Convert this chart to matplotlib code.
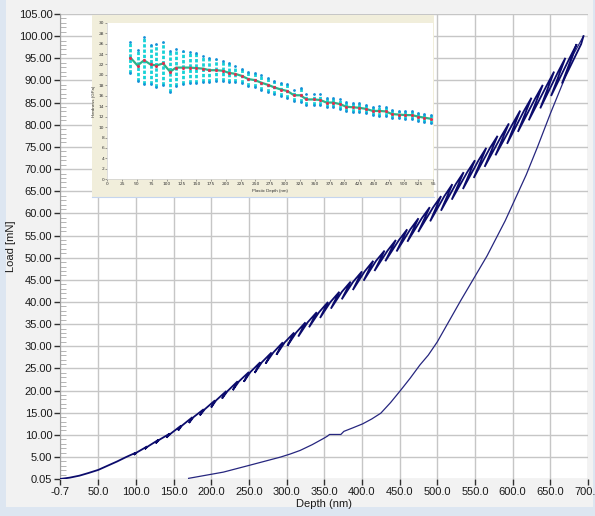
import numpy as np
import matplotlib
matplotlib.use('Agg')
import matplotlib.pyplot as plt
from matplotlib.patches import Rectangle
from matplotlib.ticker import FixedLocator, MultipleLocator, FixedFormatter

# ---------------- main chart data (Depth nm, Load mN) ----------------
start_depth = [-0.7, 12, 25, 37, 50, 62, 75, 87]
start_load = [0.05, 0.35, 0.8, 1.4, 2.1, 3.0, 4.0, 5.0]

cycle_peak_depth = [100, 115, 130, 145, 160, 175, 190, 205, 220, 235,
                    250, 265, 280, 295, 310, 325, 340, 355, 370, 385,
                    400, 415, 430, 445, 460, 475, 490, 505, 520, 535,
                    550, 565, 580, 595, 610, 625, 640, 655, 670, 685]
cycle_peak_load = [6.0, 7.4, 8.9, 10.3, 12.1, 14.0, 15.8, 17.8, 19.9, 22.1,
                   24.2, 26.4, 28.6, 30.9, 33.1, 35.4, 37.7, 40.0, 42.3, 44.6,
                   46.9, 49.3, 51.6, 54.0, 56.4, 58.9, 61.4, 63.9, 66.6, 69.3,
                   72.0, 74.8, 77.5, 80.3, 83.2, 86.1, 89.0, 92.0, 95.1, 98.2]
cycle_valley_depth = [97.4, 111.8, 126.2, 140.6, 156.1, 170.5, 184.9, 199.9, 214.3, 228.6,
                      243.3, 257.7, 272.1, 286.5, 301.1, 315.5, 329.8, 344.4, 358.8, 373.2,
                      387.9, 402.2, 416.6, 431.0, 445.9, 460.3, 474.7, 490.5, 504.9, 519.2,
                      534.0, 548.4, 562.8, 577.2, 592.6, 607.0, 621.4, 636.6, 651.0, 665.4]
cycle_valley_load = [5.5, 6.8, 8.1, 9.4, 11.0, 12.7, 14.4, 16.2, 18.2, 20.1,
                     22.0, 24.0, 26.1, 28.1, 30.1, 32.2, 34.3, 36.4, 38.5, 40.6,
                     42.7, 44.8, 47.0, 49.2, 51.4, 53.6, 55.8, 58.2, 60.6, 63.1,
                     65.5, 68.0, 70.5, 73.1, 75.7, 78.4, 81.0, 83.7, 86.5, 89.3]
cycle_reload_depth = [100.8, 116.0, 131.1, 146.3, 161.2, 176.4, 191.5, 206.5, 221.7, 236.9,
                      252.0, 267.2, 282.4, 297.6, 312.7, 327.9, 343.1, 358.2, 373.4, 388.5,
                      403.6, 418.8, 434.0, 449.2, 464.2, 479.4, 494.6, 509.4, 524.5, 539.7,
                      554.8, 570.0, 585.2, 600.3, 615.2, 630.4, 645.6, 660.5, 675.7, 690.9]
max_depth = 694
max_load = 100.0

unload_depth = [694, 681, 668, 650, 633, 618, 604, 590, 566, 548, 531, 515, 500,
                488, 477, 464, 451, 438, 425, 413, 401, 388, 376, 372, 357, 354, 349,
                334, 318, 305, 292, 272, 252, 234, 216, 193, 170]
unload_load = [100.0, 96.0, 90.0, 82.5, 75.0, 68.7, 63.5, 58.3, 50.4, 45.2, 40.3, 35.5, 31.0,
               28.0, 25.8, 22.8, 20.0, 17.3, 14.9, 13.6, 12.5, 11.6, 10.8, 10.1, 10.1, 9.7, 9.2,
               7.8, 6.5, 5.7, 5.0, 4.1, 3.2, 2.4, 1.6, 0.9, 0.2]

x_ticks = [-0.7, 50, 100, 150, 200, 250, 300, 350, 400, 450, 500, 550, 600, 650, 700]
y_ticks = [0.05, 5, 10, 15, 20, 25, 30, 35, 40, 45, 50, 55, 60, 65, 70, 75, 80, 85,
           90, 95, 100, 105]

# ---------------- inset data (Plastic depth nm, Hardness GPa) ----------------
pd_depth = [39, 51, 62, 73, 83, 94, 106, 116, 128, 139, 150, 162, 172, 183, 195, 205,
            216, 227, 238, 249, 260, 271, 282, 293, 304, 315, 326, 336, 348, 359, 370,
            381, 393, 403, 414, 425, 436, 448, 459, 470, 480, 492, 503, 514, 525, 535, 546]
hardness = [23.3, 21.8, 22.8, 22.0, 21.8, 22.2, 20.6, 21.4, 21.4, 21.4, 21.3, 21.2, 20.9,
            20.9, 20.8, 20.4, 20.2, 19.8, 19.2, 19.0, 18.5, 18.1, 17.6, 17.2, 16.9, 16.1,
            16.1, 15.3, 15.3, 15.2, 14.7, 14.7, 14.4, 13.9, 13.8, 13.7, 13.5, 13.1, 13.1,
            13.0, 12.5, 12.4, 12.3, 12.3, 12.0, 11.8, 11.6]
hardness_err = [3.0, 2.9, 4.5, 3.7, 4.1, 4.05, 3.9, 3.6, 3.2, 3.0, 2.9, 2.5, 2.3, 2.1,
                1.9, 1.85, 1.5, 1.3, 1.4, 1.3, 1.4, 1.3, 1.2, 1.2, 1.3, 1.1, 1.3, 1.0,
                1.0, 1.05, 0.9, 0.9, 0.95, 0.85, 0.85, 0.9, 0.8, 0.8, 0.9, 0.85, 0.7,
                0.75, 0.75, 0.75, 0.75, 0.75, 0.75]
inset_x_ticks = [0, 25, 50, 75, 100, 125, 150, 175, 200, 225, 250, 275, 300, 325, 350,
                 375, 400, 425, 450, 475, 500, 525, 550]
inset_x_labels = ['0', '25', '50', '75', '100', '125', '150', '175', '200', '225', '250',
                  '275', '300', '325', '350', '375', '400', '425', '450', '475', '500',
                  '525', '55']
inset_y_ticks = [0, 2, 4, 6, 8, 10, 12, 14, 16, 18, 20, 22, 24, 26, 28, 30]

FONT = 'Liberation Sans'
W, H = 595, 516

fig = plt.figure(figsize=(W / 100, H / 100), dpi=100)
fig.patch.set_facecolor('#dde6f1')
fig.patches.append(Rectangle((6 / W, 9 / H), 587 / W, 1 - 9 / H, transform=fig.transFigure,
                             facecolor='#f2f2f2', edgecolor='none', zorder=-5))

# ---------------- main axes ----------------
ax = fig.add_axes([60 / W, 37 / H, 528 / W, 465 / H])
ax.set_facecolor('white')

# assemble loading path: peak -> partial unload -> reload, for each cycle
ld, ll = list(start_depth), list(start_load)
for hp, pp, hv, pv, hr in zip(cycle_peak_depth, cycle_peak_load, cycle_valley_depth,
                              cycle_valley_load, cycle_reload_depth):
    ld += [hp, hv, hr]
    ll += [pp, pv, pp]
ld.append(max_depth)
ll.append(max_load)

ax.plot(unload_depth, unload_load, color='#26267f', lw=0.9, zorder=3)
ax.plot(ld, ll, color='#0b0b6c', lw=1.3, zorder=4, solid_joinstyle='miter')

ax.set_xlim(-0.7, 700)
ax.set_ylim(0.05, 105)
ax.xaxis.set_major_locator(FixedLocator(x_ticks))
ax.xaxis.set_major_formatter(FixedFormatter(['%.1f' % v for v in x_ticks]))
ax.yaxis.set_major_locator(FixedLocator(y_ticks))
ax.yaxis.set_major_formatter(FixedFormatter(['%.2f' % v for v in y_ticks]))
ax.yaxis.set_minor_locator(MultipleLocator(1))
ax.grid(True, which='major', color='#c6c6c6', lw=1.0, zorder=1)
ax.set_axisbelow(True)
ax.tick_params(axis='both', which='major', direction='out', length=4, width=1,
               color='#303030', labelsize=8, labelcolor='#1a1a1a', pad=1.5)
ax.tick_params(axis='y', which='minor', direction='in', length=4, width=0.6, color='#a8a8a8')
for lab in ax.get_xticklabels() + ax.get_yticklabels():
    lab.set_fontfamily(FONT)
for s in ['top', 'right', 'bottom']:
    ax.spines[s].set_visible(False)
ax.spines['left'].set_color('#a0a0a0')
ax.set_xlabel('Depth (nm)', fontsize=8, family=FONT, color='#1a1a1a', labelpad=2)
ax.set_ylabel('Load [mN]', fontsize=8, family=FONT, color='#1a1a1a', labelpad=2)

# ---------------- inset ----------------
frame = fig.add_axes([92 / W, (H - 197) / H, 342 / W, 182 / H], zorder=5)
frame.set_facecolor('#f1eedb')
frame.set_xticks([])
frame.set_yticks([])
for s in frame.spines.values():
    s.set_visible(False)
frame.spines['bottom'].set_visible(True)
frame.spines['bottom'].set_color('#c5d5ee')

ins = fig.add_axes([107.3 / W, (H - 179.3) / H, 326 / W, 156.6 / H], zorder=6)
ins.set_facecolor('white')
ins.set_xlim(0, 550)
ins.set_ylim(0, 30)
ins.vlines(pd_depth, np.subtract(hardness, hardness_err), np.add(hardness, hardness_err),
           colors='#16d2d6', lw=2.0, linestyles=(0, (1.2, 0.7)), zorder=2)
ins.scatter(pd_depth, np.subtract(hardness, hardness_err), s=4, color='#1590d8', zorder=3, lw=0)
ins.scatter(pd_depth, np.add(hardness, hardness_err), s=4, color='#1590d8', zorder=3, lw=0)
ins.plot(pd_depth, hardness, color='#2bb38a', lw=1.6, zorder=4)
ins.scatter(pd_depth, hardness, s=5, color='#e03050', zorder=5, lw=0)
ins.xaxis.set_major_locator(FixedLocator(inset_x_ticks))
ins.xaxis.set_major_formatter(FixedFormatter(inset_x_labels))
ins.yaxis.set_major_locator(FixedLocator(inset_y_ticks))
ins.tick_params(axis='both', direction='out', length=1.5, width=0.4, color='#555555',
                labelsize=3.2, labelcolor='#333333', pad=0.8)
for s in ['top', 'right']:
    ins.spines[s].set_visible(False)
for s in ['left', 'bottom']:
    ins.spines[s].set_color('#cfcfcf')
    ins.spines[s].set_linewidth(0.5)
ins.set_xlabel('Plastic Depth (nm)', fontsize=3.2, family=FONT, color='#333333', labelpad=1.5)
ins.set_ylabel('Hardness (GPa)', fontsize=3.2, family=FONT, color='#333333', labelpad=2)

fig.savefig('out.png', dpi=100, facecolor=fig.get_facecolor())
